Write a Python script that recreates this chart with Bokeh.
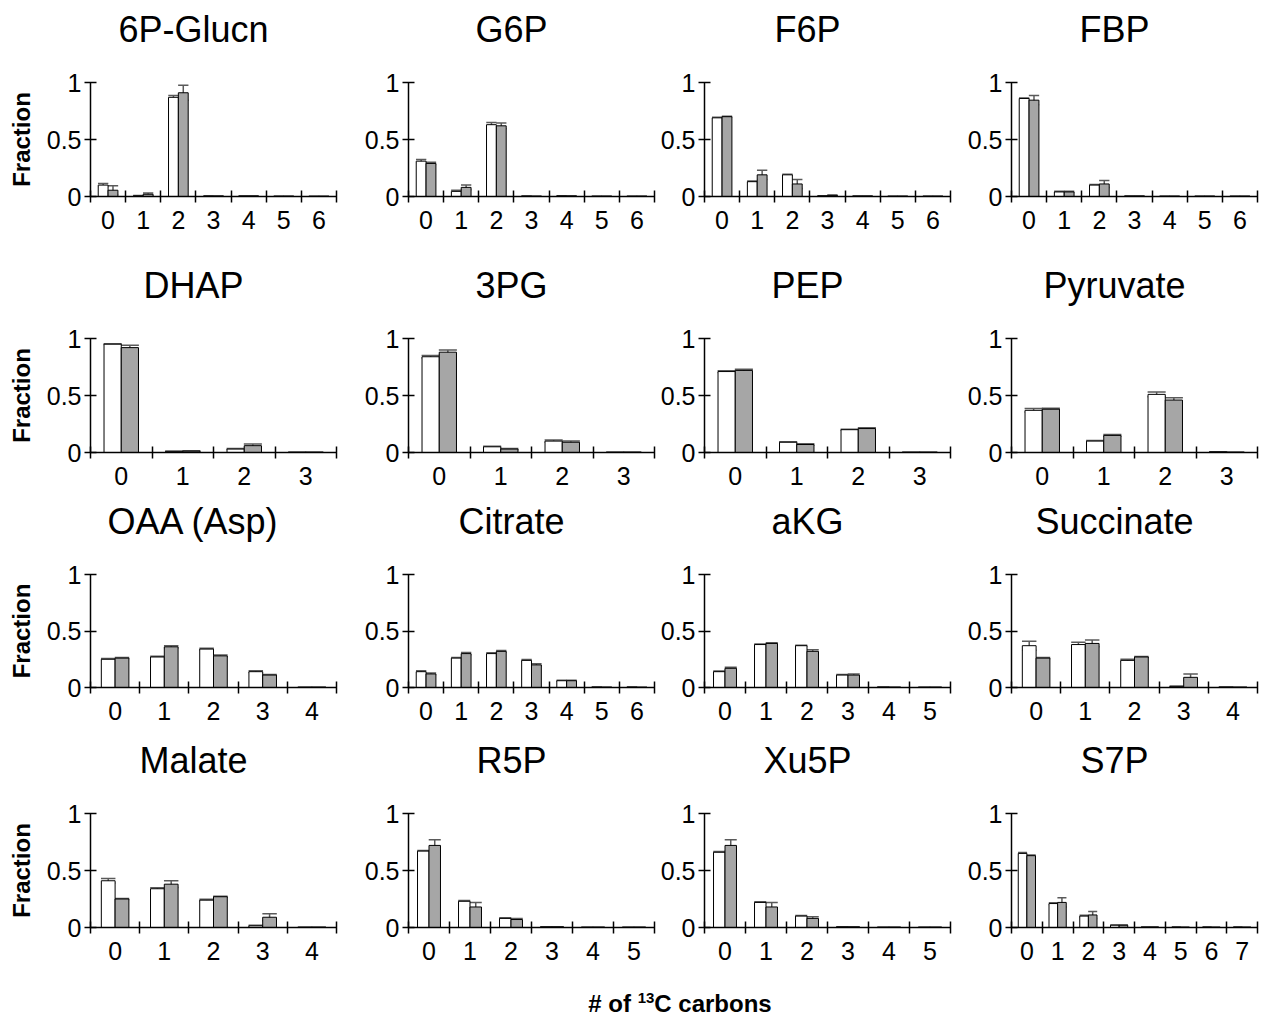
import numpy as np
from bokeh.plotting import figure
from bokeh.models import ColumnDataSource, Range1d, FixedTicker, Whisker, TeeHead, Title, Div
from bokeh.layouts import row, column
from bokeh.embed import file_html
from bokeh.resources import INLINE

# ---------------- data (fractions of each isotopologue, white = control, gray = treated) ----
carbon_labels = ["0", "1", "2", "3", "4", "5", "6", "7"]
y_ticks = [0, 0.5, 1]
y_tick_labels = ["0", "0.5", "1"]

titles = ["6P-Glucn", "G6P", "F6P", "FBP",
          "DHAP", "3PG", "PEP", "Pyruvate",
          "OAA (Asp)", "Citrate", "aKG", "Succinate",
          "Malate", "R5P", "Xu5P", "S7P"]

glucn_white = [0.10, 0.005, 0.87, 0.004, 0.004, 0.002, 0.001]
glucn_gray = [0.055, 0.02, 0.91, 0.003, 0.004, 0.002, 0.001]
glucn_white_err = [0.015, 0.003, 0.015, 0.001, 0.001, 0.001, 0.001]
glucn_gray_err = [0.04, 0.01, 0.065, 0.001, 0.001, 0.001, 0.001]

g6p_white = [0.31, 0.045, 0.63, 0.003, 0.005, 0.002, 0.002]
g6p_gray = [0.29, 0.08, 0.62, 0.002, 0.004, 0.002, 0.002]
g6p_white_err = [0.015, 0.01, 0.02, 0.001, 0.002, 0.001, 0.001]
g6p_gray_err = [0.01, 0.02, 0.025, 0.001, 0.001, 0.001, 0.001]

f6p_white = [0.69, 0.13, 0.19, 0.005, 0.003, 0.002, 0.002]
f6p_gray = [0.70, 0.19, 0.11, 0.01, 0.003, 0.002, 0.002]
f6p_white_err = [0.005, 0.005, 0.005, 0.002, 0.001, 0.001, 0.001]
f6p_gray_err = [0.005, 0.04, 0.04, 0.003, 0.001, 0.001, 0.001]

fbp_white = [0.86, 0.04, 0.10, 0.003, 0.002, 0.002, 0.002]
fbp_gray = [0.845, 0.04, 0.11, 0.003, 0.002, 0.002, 0.002]
fbp_white_err = [0.005, 0.005, 0.005, 0.001, 0.001, 0.001, 0.001]
fbp_gray_err = [0.04, 0.005, 0.03, 0.001, 0.001, 0.001, 0.001]

dhap_white = [0.95, 0.01, 0.03, 0.002]
dhap_gray = [0.92, 0.012, 0.06, 0.002]
dhap_white_err = [0.003, 0.002, 0.004, 0.001]
dhap_gray_err = [0.02, 0.003, 0.015, 0.001]

pg3_white = [0.84, 0.05, 0.10, 0.002]
pg3_gray = [0.88, 0.03, 0.09, 0.002]
pg3_white_err = [0.01, 0.005, 0.01, 0.001]
pg3_gray_err = [0.02, 0.005, 0.01, 0.001]

pep_white = [0.71, 0.09, 0.20, 0.002]
pep_gray = [0.72, 0.07, 0.21, 0.002]
pep_white_err = [0.008, 0.004, 0.005, 0.001]
pep_gray_err = [0.01, 0.006, 0.008, 0.001]

pyr_white = [0.37, 0.10, 0.51, 0.005]
pyr_gray = [0.38, 0.15, 0.46, 0.002]
pyr_white_err = [0.015, 0.005, 0.02, 0.002]
pyr_gray_err = [0.008, 0.008, 0.02, 0.001]

oaa_white = [0.25, 0.27, 0.34, 0.14, 0.002]
oaa_gray = [0.26, 0.36, 0.28, 0.11, 0.002]
oaa_white_err = [0.006, 0.006, 0.008, 0.008, 0.001]
oaa_gray_err = [0.005, 0.01, 0.008, 0.005, 0.001]

cit_white = [0.14, 0.26, 0.30, 0.24, 0.06, 0.003, 0.003]
cit_gray = [0.12, 0.30, 0.32, 0.20, 0.06, 0.002, 0.001]
cit_white_err = [0.008, 0.005, 0.008, 0.008, 0.005, 0.001, 0.001]
cit_gray_err = [0.008, 0.01, 0.008, 0.01, 0.005, 0.001, 0.001]

akg_white = [0.14, 0.38, 0.37, 0.11, 0.003, 0.002]
akg_gray = [0.17, 0.39, 0.32, 0.11, 0.002, 0.002]
akg_white_err = [0.005, 0.005, 0.005, 0.005, 0.001, 0.001]
akg_gray_err = [0.01, 0.005, 0.015, 0.01, 0.001, 0.001]

suc_white = [0.37, 0.38, 0.24, 0.01, 0.003]
suc_gray = [0.26, 0.39, 0.27, 0.09, 0.002]
suc_white_err = [0.04, 0.02, 0.01, 0.002, 0.001]
suc_gray_err = [0.005, 0.03, 0.005, 0.03, 0.001]

mal_white = [0.41, 0.34, 0.24, 0.015, 0.002]
mal_gray = [0.25, 0.38, 0.27, 0.09, 0.002]
mal_white_err = [0.02, 0.008, 0.008, 0.004, 0.001]
mal_gray_err = [0.004, 0.03, 0.004, 0.03, 0.001]

r5p_white = [0.67, 0.23, 0.08, 0.005, 0.002, 0.002]
r5p_gray = [0.72, 0.18, 0.07, 0.005, 0.002, 0.002]
r5p_white_err = [0.006, 0.006, 0.006, 0.002, 0.001, 0.001]
r5p_gray_err = [0.05, 0.04, 0.01, 0.002, 0.001, 0.001]

xu5p_white = [0.66, 0.22, 0.10, 0.005, 0.002, 0.002]
xu5p_gray = [0.72, 0.18, 0.08, 0.004, 0.002, 0.002]
xu5p_white_err = [0.006, 0.006, 0.006, 0.002, 0.001, 0.001]
xu5p_gray_err = [0.05, 0.04, 0.015, 0.002, 0.001, 0.001]

s7p_white = [0.65, 0.21, 0.10, 0.02, 0.003, 0.003, 0.003, 0.003]
s7p_gray = [0.63, 0.22, 0.11, 0.02, 0.003, 0.002, 0.002, 0.002]
s7p_white_err = [0.008, 0.008, 0.008, 0.003, 0.001, 0.001, 0.001, 0.001]
s7p_gray_err = [0.005, 0.04, 0.03, 0.003, 0.001, 0.001, 0.001, 0.001]

panel_data = [
    (glucn_white, glucn_gray, glucn_white_err, glucn_gray_err),
    (g6p_white, g6p_gray, g6p_white_err, g6p_gray_err),
    (f6p_white, f6p_gray, f6p_white_err, f6p_gray_err),
    (fbp_white, fbp_gray, fbp_white_err, fbp_gray_err),
    (dhap_white, dhap_gray, dhap_white_err, dhap_gray_err),
    (pg3_white, pg3_gray, pg3_white_err, pg3_gray_err),
    (pep_white, pep_gray, pep_white_err, pep_gray_err),
    (pyr_white, pyr_gray, pyr_white_err, pyr_gray_err),
    (oaa_white, oaa_gray, oaa_white_err, oaa_gray_err),
    (cit_white, cit_gray, cit_white_err, cit_gray_err),
    (akg_white, akg_gray, akg_white_err, akg_gray_err),
    (suc_white, suc_gray, suc_white_err, suc_gray_err),
    (mal_white, mal_gray, mal_white_err, mal_gray_err),
    (r5p_white, r5p_gray, r5p_white_err, r5p_gray_err),
    (xu5p_white, xu5p_gray, xu5p_white_err, xu5p_gray_err),
    (s7p_white, s7p_gray, s7p_white_err, s7p_gray_err),
]

# ---------------- styling / layout ----------------
FONT = "Liberation Sans"
GRAY = "#a6a6a6"
ERR = "#5a5a5a"
FRAME_W = 246
FRAME_H = 114
BAR_W = 0.28
TITLE_PX = 36
TICK_PX = "25px"
col_border_left = [90, 58, 48, 53]
col_border_right = [14, 2, 8, 3]
row_border_top = [82, 88, 74, 76]
row_border_bottom = [54, 47, 50, 48]

# approximate Arial / Liberation Sans advance widths (per 1000 em) to centre titles
CHAR_W = {'P': 667, '-': 333, 'G': 778, 'l': 222, 'u': 556, 'c': 500, 'n': 556,
          'F': 611, 'B': 667, 'D': 722, 'H': 722, 'A': 667, 'y': 500, 'r': 333,
          'v': 500, 'a': 556, 't': 278, 'e': 556, 'O': 778, ' ': 278, '(': 333,
          's': 500, 'p': 556, ')': 333, 'i': 222, 'k': 500, 'K': 667, 'S': 667,
          'M': 833, 'R': 722, 'X': 667, 'C': 722, 'E': 667}


def text_width(s, px):
    return sum(CHAR_W.get(ch, 556) for ch in s) / 1000 * px


def make_panel(k):
    r, c = divmod(k, 4)
    white, gray, werr, gerr = panel_data[k]
    n = len(white)
    p = figure(width=col_border_left[c] + FRAME_W + col_border_right[c],
               height=row_border_top[r] + FRAME_H + row_border_bottom[r],
               x_range=Range1d(-0.5, n - 0.5), y_range=Range1d(0, 1),
               min_border_left=col_border_left[c], min_border_right=col_border_right[c],
               min_border_top=row_border_top[r], min_border_bottom=row_border_bottom[r],
               output_backend="svg", toolbar_location=None, tools="")
    p.outline_line_color = None
    p.grid.visible = False
    p.background_fill_color = "white"
    p.border_fill_color = "white"

    idx = np.arange(n)
    w = np.array(white, dtype=float)
    g = np.array(gray, dtype=float)
    we = np.array(werr, dtype=float)
    ge = np.array(gerr, dtype=float)
    src = ColumnDataSource(dict(
        xw=idx - BAR_W / 2, xg=idx + BAR_W / 2, w=w, g=g,
        wl=np.maximum(w - we, 0), wu=w + we,
        gl=np.maximum(g - ge, 0), gu=g + ge))

    p.vbar(x="xw", top="w", bottom=0, width=BAR_W, fill_color="white",
           line_color="black", line_width=1, source=src)
    p.vbar(x="xg", top="g", bottom=0, width=BAR_W, fill_color=GRAY,
           line_color="black", line_width=1, source=src)

    head = BAR_W * FRAME_W / n * 1.05
    for base, lo, up in (("xw", "wl", "wu"), ("xg", "gl", "gu")):
        p.add_layout(Whisker(source=src, base=base, lower=lo, upper=up,
                             line_color=ERR, line_width=1.5,
                             upper_head=TeeHead(size=head, line_color=ERR, line_width=1.5),
                             lower_head=TeeHead(size=head, line_color=ERR, line_width=1.5)))

    xa = p.xaxis[0]
    xa.ticker = FixedTicker(ticks=list(range(n)),
                            minor_ticks=[i - 0.5 for i in range(n + 1)])
    xa.major_label_overrides = {i: carbon_labels[i] for i in range(n)}
    xa.major_tick_in = 0
    xa.major_tick_out = 0
    xa.minor_tick_in = 6
    xa.minor_tick_out = 6
    xa.minor_tick_line_color = "black"
    xa.minor_tick_line_width = 1.5
    xa.axis_line_color = "black"
    xa.axis_line_width = 1.5
    xa.major_label_text_font = FONT
    xa.major_label_text_font_size = TICK_PX
    xa.major_label_text_color = "black"
    xa.major_label_standoff = 8

    ya = p.yaxis[0]
    ya.ticker = FixedTicker(ticks=y_ticks, minor_ticks=[])
    ya.major_label_overrides = {t: l for t, l in zip(y_ticks, y_tick_labels)}
    ya.major_tick_in = 6
    ya.major_tick_out = 6
    ya.major_tick_line_color = "black"
    ya.major_tick_line_width = 1.5
    ya.minor_tick_line_color = None
    ya.axis_line_color = "black"
    ya.axis_line_width = 1.5
    ya.major_label_text_font = FONT
    ya.major_label_text_font_size = TICK_PX
    ya.major_label_text_color = "black"
    ya.major_label_standoff = 3
    if c == 0:
        ya.axis_label = "Fraction"
        ya.axis_label_text_font = FONT
        ya.axis_label_text_font_style = "bold"
        ya.axis_label_text_font_size = "24px"
        ya.axis_label_text_color = "black"
        ya.axis_label_standoff = 9

    # white (invisible on white) spacer next to the frame, then the title above it
    p.add_layout(Title(text=".", text_font=FONT, text_font_size="25px", text_color="white",
                       standoff=12), "above")
    off = FRAME_W / 2 - 20 - text_width(titles[k], TITLE_PX) / 2
    p.add_layout(Title(text=titles[k], align="left", offset=off, vertical_align="middle",
                       standoff=0, text_font=FONT, text_font_size=f"{TITLE_PX}px",
                       text_font_style="normal", text_color="black"), "above")
    return p


rows = [row(*[make_panel(r * 4 + c) for c in range(4)]) for r in range(4)]

xlabel = Div(text="<b># of <sup style='font-size:15px'>13</sup>C carbons</b>",
             width=300, height=40, margin=(0, 0, 0, 530),
             styles={"font-family": FONT, "font-size": "24px", "text-align": "center",
                     "color": "black", "padding-top": "12px"})

layout = column(*rows, xlabel)
open("out.html", "w").write(file_html(layout, INLINE))
